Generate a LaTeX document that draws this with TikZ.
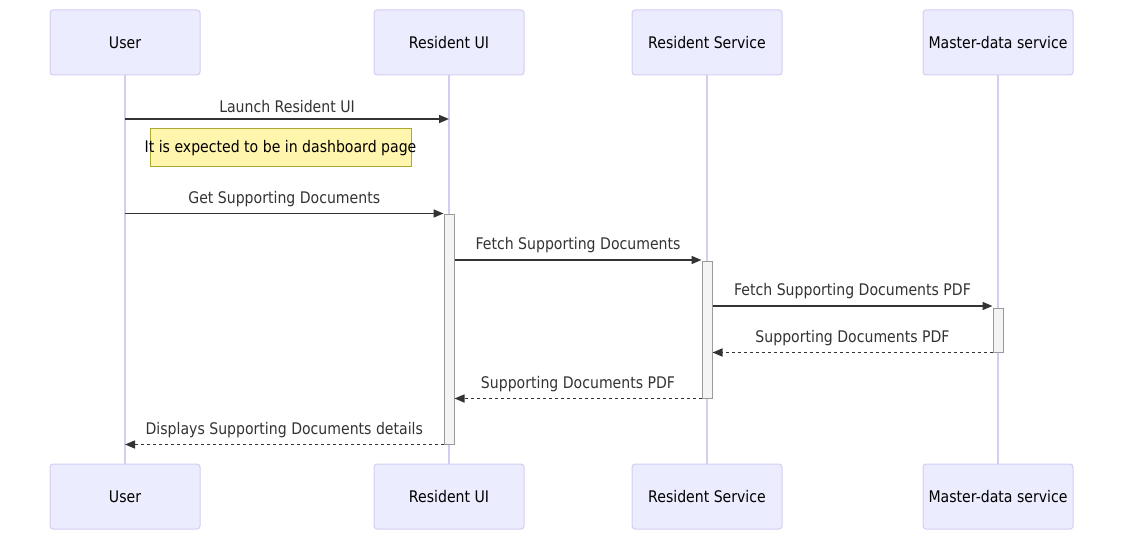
\documentclass[tikz,border=0pt]{standalone}
\usepackage{fontspec}
\setmainfont[FakeStretch=0.88]{DejaVu Sans}
\usetikzlibrary{arrows.meta, positioning, calc}
\definecolor{actorFill}{HTML}{ECECFF}
\definecolor{actorLine}{HTML}{D6CCF2}
\definecolor{actFill}{HTML}{F4F4F4}
\definecolor{actLine}{HTML}{9A9A9A}
\definecolor{msgDark}{HTML}{333333}
\definecolor{noteFill}{HTML}{FFF5AD}
\definecolor{noteLine}{HTML}{AAAA33}

\begin{document}
\begin{tikzpicture}[x=1pt, y=-1pt,
    actor/.style={rectangle, rounded corners=3pt, draw=actorLine, fill=actorFill,
                  minimum width=150pt, minimum height=65pt, line width=1pt,
                  font=\fontsize{16}{18}\selectfont, text=black},
    lifeline/.style={draw=actorLine, line width=1.2pt},
    act/.style={rectangle, draw=actLine, fill=actFill, line width=1pt,
                minimum width=10pt, inner sep=0pt},
    msg/.style={draw=msgDark, line width=1.5pt, -{Triangle[length=10pt, width=8pt]}},
    reply/.style={msg, dash pattern=on 3pt off 3pt},
    lbl/.style={font=\fontsize{16}{18}\selectfont, text=msgDark, inner sep=0pt, above=6pt},
    note/.style={rectangle, draw=noteLine, fill=noteFill, line width=1pt,
                 minimum width=261pt, minimum height=38pt},
  ]
    \useasboundingbox (0,0) rectangle (1123,540);

    % actors, top and bottom
    \node[actor] (userT) at (125,42.5) {User};
    \node[actor] (uiT) at (449,42.5) {Resident UI};
    \node[actor] (svcT) at (707,42.5) {Resident Service};
    \node[actor] (mdT) at (998,42.5) {Master-data service};
    \node[actor] (userB) at (125,496.5) {User};
    \node[actor] (uiB) at (449,496.5) {Resident UI};
    \node[actor] (svcB) at (707,496.5) {Resident Service};
    \node[actor] (mdB) at (998,496.5) {Master-data service};

    \draw[lifeline] (userT) -- (userB);
    \draw[lifeline] (uiT) -- (uiB);
    \draw[lifeline] (svcT) -- (svcB);
    \draw[lifeline] (mdT) -- (mdB);

    % activations
    \node[act, minimum height=230pt] (uiAct) at (449,329) {};
    \node[act, minimum height=137pt] (svcAct) at (707,329.5) {};
    \node[act, minimum height=44pt] (mdAct) at (998,330) {};

    % note
    \node[note, label={[font=\fontsize{16}{18}\selectfont, text=black]center:It is expected to be in dashboard page}]
      (dash) at (280.5,148) {};

    % messages
    \coordinate (launch) at (125,119);
    \draw[msg] (launch) -- node[lbl] {Launch Resident UI} (uiT |- launch);
    \draw[msg] (userT |- uiAct.north) -- node[lbl] {Get Supporting Documents} (uiAct.north west);
    \draw[msg] (uiAct.east |- 0,260) -- node[lbl] {Fetch Supporting Documents} (svcAct.west |- 0,260);
    \draw[msg] (svcAct.east |- 0,306) -- node[lbl] {Fetch Supporting Documents PDF} (mdAct.west |- 0,306);
    \draw[reply] (mdAct.south west) -- node[lbl] {Supporting Documents PDF} (svcAct.east |- mdAct.south);
    \draw[reply] (svcAct.south west) -- node[lbl] {Supporting Documents PDF} (uiAct.east |- svcAct.south);
    \draw[reply] (uiAct.south west) -- node[lbl] {Displays Supporting Documents details} (userT |- uiAct.south);
\end{tikzpicture}
\end{document}
